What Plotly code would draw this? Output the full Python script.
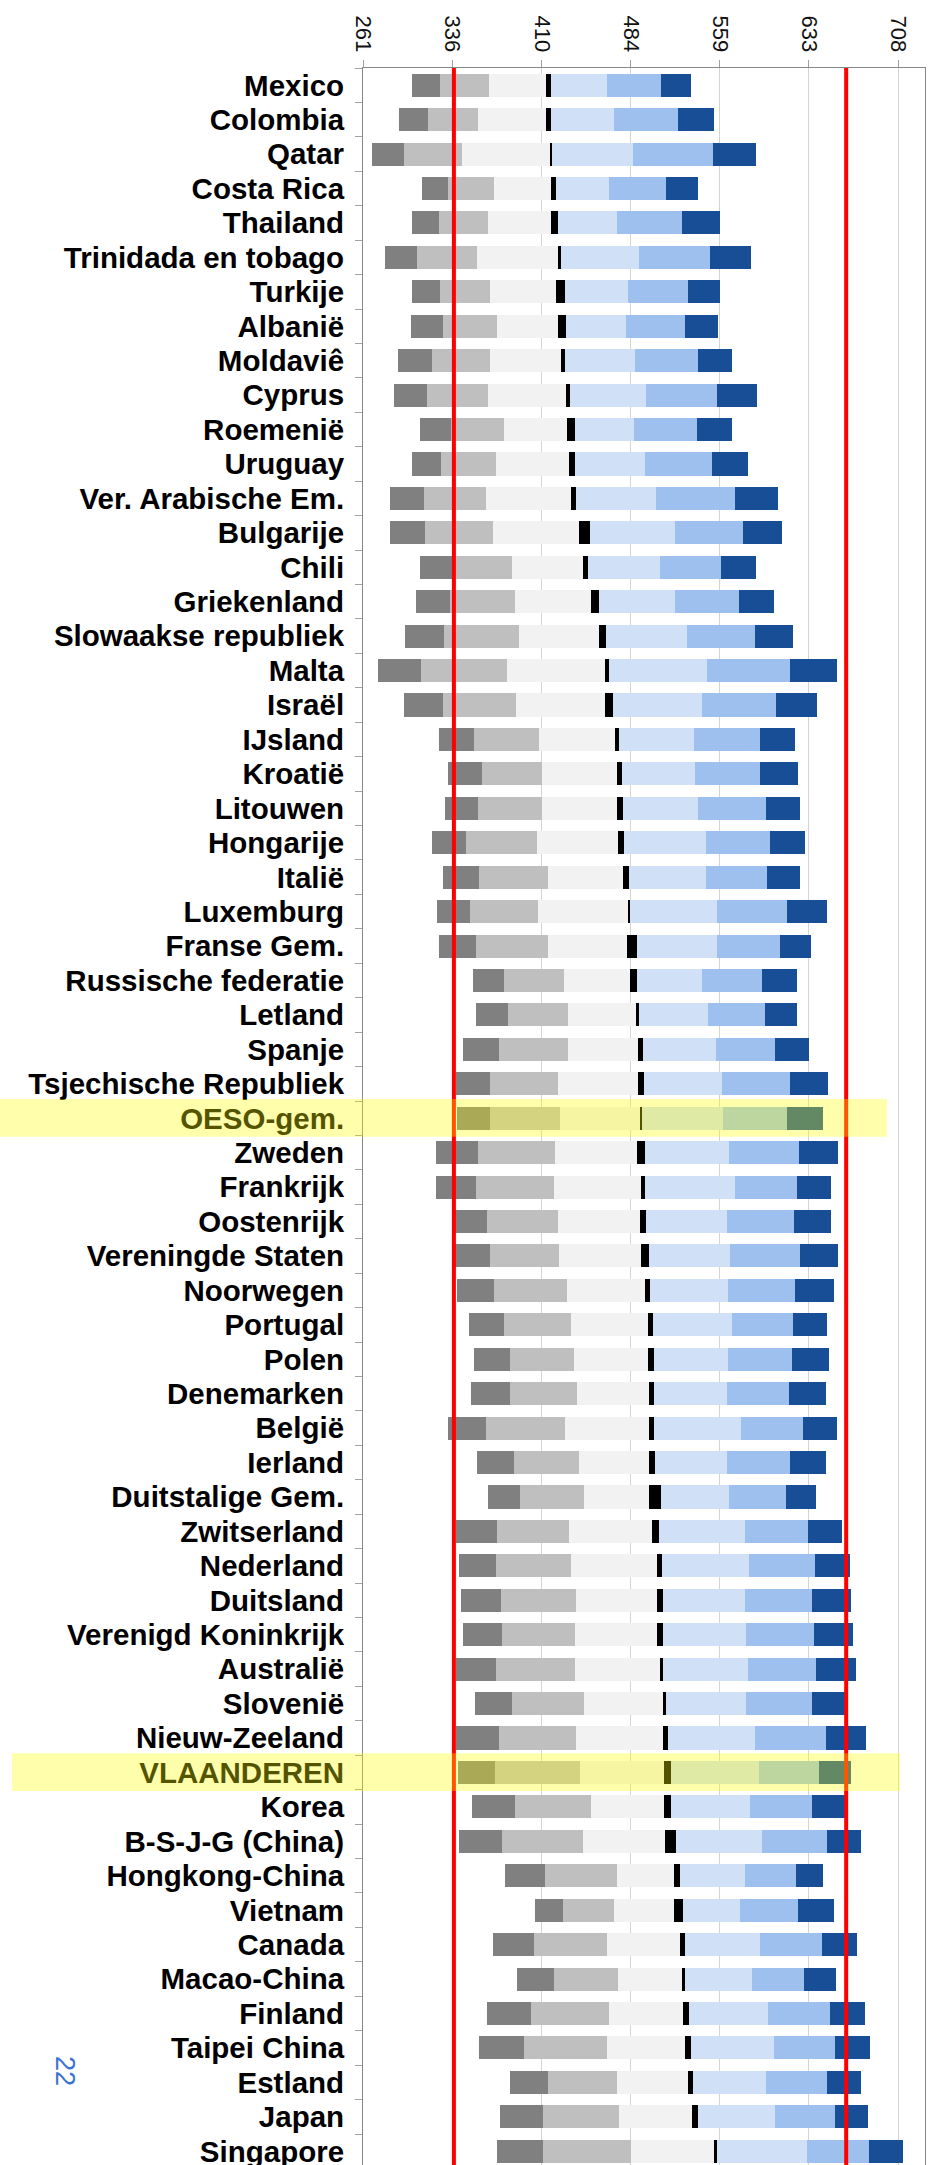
import plotly.graph_objects as go

countries = ["Mexico", "Colombia", "Qatar", "Costa Rica", "Thailand", "Trinidada en tobago",
             "Turkije", "Albanië", "Moldaviê", "Cyprus", "Roemenië", "Uruguay",
             "Ver. Arabische Em.", "Bulgarije", "Chili", "Griekenland", "Slowaakse republiek",
             "Malta", "Israël", "IJsland", "Kroatië", "Litouwen", "Hongarije", "Italië",
             "Luxemburg", "Franse Gem.", "Russische federatie", "Letland", "Spanje",
             "Tsjechische Republiek", "OESO-gem.", "Zweden", "Frankrijk", "Oostenrijk",
             "Vereningde Staten", "Noorwegen", "Portugal", "Polen", "Denemarken", "België",
             "Ierland", "Duitstalige Gem.", "Zwitserland", "Nederland", "Duitsland",
             "Verenigd Koninkrijk", "Australië", "Slovenië", "Nieuw-Zeeland", "VLAANDEREN",
             "Korea", "B-S-J-G (China)", "Hongkong-China", "Vietnam", "Canada", "Macao-China",
             "Finland", "Taipei China", "Estland", "Japan", "Singapore"]

p5 = [301.2, 290.8, 268.5, 309.7, 301.2, 279.2, 301.5, 300.6, 289.6, 286.2, 308.5, 301.2,
      283.4, 282.8, 307.9, 304.5, 295.4, 272.8, 294.5, 324.1, 331.4, 329.3, 318.6, 327.8,
      322.6, 324.1, 352.2, 354.7, 344.3, 338.0, 339.0, 321.6, 321.3, 334.8, 337.0, 339.0,
      349.5, 353.7, 351.3, 331.7, 356.2, 365.4, 338.0, 341.2, 342.4, 344.6, 338.0, 354.0,
      338.0, 340.0, 351.9, 340.9, 379.1, 404.2, 369.6, 389.2, 364.4, 358.0, 383.7, 375.1,
      372.7]
p10 = [324.7, 314.6, 294.5, 331.7, 323.8, 306.1, 324.7, 327.8, 318.0, 314.0, 334.2, 325.6,
       311.6, 312.5, 334.8, 333.3, 328.7, 309.4, 327.2, 353.7, 359.8, 356.8, 346.4, 358.0,
       350.4, 354.7, 378.8, 381.5, 373.9, 366.6, 367.2, 356.5, 354.7, 364.1, 367.2, 369.9,
       378.8, 383.7, 383.1, 363.5, 386.7, 391.6, 372.4, 371.5, 375.7, 376.4, 371.5, 385.5,
       373.9, 371.2, 388.0, 377.0, 412.7, 427.7, 403.2, 420.1, 401.4, 395.0, 415.2, 411.5,
       411.5]
p25 = [365.7, 356.8, 343.7, 369.9, 364.7, 355.6, 367.2, 372.7, 367.2, 364.7, 378.8, 371.5,
       363.8, 369.0, 384.9, 387.7, 391.0, 381.2, 388.3, 408.1, 410.3, 410.0, 406.0, 414.9,
       406.6, 415.5, 428.3, 432.3, 431.7, 423.7, 425.6, 421.0, 420.7, 423.7, 424.6, 431.1,
       434.4, 436.6, 439.3, 429.2, 440.8, 445.1, 432.9, 434.1, 439.0, 437.5, 438.1, 445.1,
       438.4, 442.1, 450.9, 444.5, 472.6, 470.2, 465.0, 474.1, 465.9, 465.0, 472.6, 474.4,
       484.8]
ci_lo = [413.6, 413.3, 416.7, 417.6, 418.2, 423.4, 421.6, 424.0, 425.9, 430.7, 431.4, 432.9,
         434.1, 441.4, 444.5, 450.9, 457.9, 462.8, 463.1, 471.4, 473.2, 472.9, 474.1, 477.8,
         481.8, 481.2, 483.6, 488.8, 490.6, 490.6, 492.8, 489.7, 493.1, 492.5, 493.1, 496.5,
         498.9, 499.2, 499.5, 499.8, 500.1, 500.1, 502.6, 506.2, 506.2, 506.8, 508.7, 511.7,
         511.1, 512.6, 512.6, 513.0, 520.6, 520.9, 525.5, 527.6, 528.5, 529.8, 532.2, 535.3,
         554.2]
ci_hi = [417.6, 417.6, 418.5, 421.6, 424.0, 425.9, 429.2, 430.1, 429.8, 433.5, 438.1, 437.5,
         439.0, 450.0, 449.1, 458.3, 463.4, 465.9, 469.9, 474.5, 477.5, 477.8, 479.0, 483.0,
         483.6, 489.4, 489.4, 491.6, 494.9, 495.2, 493.7, 496.8, 496.8, 497.4, 499.5, 500.4,
         503.2, 503.8, 504.1, 504.1, 505.0, 509.6, 508.1, 510.5, 511.7, 511.7, 511.1, 513.9,
         515.7, 517.8, 518.5, 522.1, 525.5, 528.5, 529.5, 529.5, 533.1, 534.6, 536.2, 541.1,
         556.3]
p75 = [464.4, 470.8, 486.1, 465.9, 473.2, 491.0, 482.1, 480.9, 488.2, 497.4, 487.6, 496.1,
       505.3, 521.2, 509.0, 521.8, 531.6, 548.4, 544.1, 537.4, 538.3, 540.5, 547.5, 547.2,
       556.7, 557.0, 544.4, 548.7, 555.7, 560.9, 561.2, 566.7, 571.3, 565.2, 567.4, 566.1,
       568.9, 565.5, 564.6, 576.8, 564.6, 566.7, 580.2, 583.5, 580.2, 580.5, 582.6, 581.1,
       588.1, 592.1, 584.2, 594.6, 579.6, 575.9, 592.7, 586.0, 599.1, 604.0, 597.3, 604.9,
       631.5]
p90 = [509.6, 523.7, 553.6, 513.6, 527.6, 550.8, 532.2, 530.1, 540.8, 556.7, 539.5, 552.1,
       571.3, 578.4, 560.0, 575.0, 588.4, 617.8, 606.2, 592.4, 592.7, 597.3, 601.0, 598.5,
       615.0, 609.2, 594.5, 596.4, 604.9, 617.8, 614.7, 625.4, 623.3, 620.6, 625.7, 622.1,
       619.9, 619.0, 616.9, 628.8, 617.8, 614.1, 632.5, 638.6, 636.4, 637.9, 639.5, 636.4,
       647.7, 641.9, 636.1, 648.6, 622.4, 623.9, 644.1, 629.7, 651.4, 655.4, 648.3, 655.4,
       683.5]
p95 = [535.0, 554.2, 589.4, 540.8, 559.4, 585.1, 559.4, 557.6, 569.2, 590.3, 569.2, 582.6,
       607.7, 611.1, 589.0, 604.0, 620.5, 656.6, 640.4, 622.1, 623.9, 626.3, 630.3, 626.3,
       648.3, 635.5, 623.6, 623.6, 633.1, 649.6, 645.0, 657.8, 651.7, 652.3, 658.1, 654.8,
       648.6, 650.2, 648.0, 656.6, 648.0, 639.2, 661.5, 667.9, 668.5, 670.3, 672.5, 663.9,
       681.3, 668.5, 665.0, 677.4, 645.3, 654.8, 673.7, 656.3, 680.7, 684.4, 677.1, 683.2,
       712.2]

tick_values = [261, 335.5, 410, 484.5, 559, 633.5, 708]
tick_labels = ["261", "336", "410", "484", "559", "633", "708"]
ref_lines = [336.6, 664.6]
highlighted = ["OESO-gem.", "VLAANDEREN"]
page_number = "22"

segments = [
    ("P5-P10", p5, p10, "#808080"),
    ("P10-P25", p10, p25, "#BFBFBF"),
    ("P25-gem", p25, ci_lo, "#F2F2F2"),
    ("gemiddelde", ci_lo, ci_hi, "#000000"),
    ("gem-P75", ci_hi, p75, "#CFE0F7"),
    ("P75-P90", p75, p90, "#9DC0EE"),
    ("P90-P95", p90, p95, "#174E96"),
]

n = len(countries)
ypos = list(range(n))

fig = go.Figure()
for name, lo, hi, col in segments:
    fig.add_trace(go.Bar(
        y=ypos, x=[h - l for l, h in zip(lo, hi)], base=lo, orientation="h",
        marker=dict(color=col, line=dict(width=0)), width=0.67, name=name,
        showlegend=False, hoverinfo="skip"))

W, H = 928, 2165
ML, MR, MT, MB = 363, 3, 68, 0
plot_w = W - ML - MR
plot_h = H - MT - MB

shapes = []
for v in ref_lines:
    shapes.append(dict(type="line", xref="x", yref="paper", x0=v, x1=v, y0=0, y1=1,
                       line=dict(color="#FF0000", width=4), layer="above"))
hl_right = {"OESO-gem.": 887, "VLAANDEREN": 900}
hl_left = {"OESO-gem.": 0, "VLAANDEREN": 12}
for lab in highlighted:
    i = countries.index(lab)
    shapes.append(dict(type="rect", xref="paper", yref="y",
                       x0=(hl_left[lab] - ML) / plot_w, x1=(hl_right[lab] - ML) / plot_w,
                       y0=i - 0.56, y1=i + 0.54,
                       fillcolor="rgba(255,255,0,0.33)", line=dict(width=0), layer="above"))

fig.update_layout(
    width=W, height=H,
    margin=dict(l=ML, r=MR, t=MT, b=MB, pad=0),
    paper_bgcolor="white", plot_bgcolor="white",
    barmode="overlay", bargap=0,
    shapes=shapes,
    font=dict(family="Liberation Sans, Arial, sans-serif", color="#000000"),
    annotations=[dict(text=page_number, xref="paper", yref="paper",
                      x=(65 - ML) / plot_w, y=1 - (2071 - MT) / plot_h,
                      xanchor="center", yanchor="middle",
                      showarrow=False, textangle=90,
                      font=dict(size=27, color="#3B74D0"))],
)
fig.update_xaxes(
    side="top", range=[260.6, 730.5], tickmode="array",
    tickvals=tick_values, ticktext=tick_labels, tickangle=90,
    tickfont=dict(size=22, color="#111111"),
    ticks="outside", ticklen=7, tickcolor="#A0A0A0",
    showgrid=True, gridcolor="#D4D4D4", gridwidth=1,
    showline=True, linecolor="#888888", linewidth=1, mirror=True,
    zeroline=False, automargin=False, fixedrange=True,
    ticklabeloverflow="allow",
)
fig.update_yaxes(
    range=[60.4, -0.5], tickmode="array", tickvals=ypos, ticktext=countries,
    tickfont=dict(size=29.5, color="#000000", weight="bold"),
    ticks="", ticklabelstandoff=12, ticklabeloverflow="allow",
    minor=dict(tickmode="array", tickvals=[i - 0.5 for i in range(n + 1)],
               ticks="outside", ticklen=7, tickcolor="#A0A0A0", showgrid=False),
    showgrid=False, showline=True, linecolor="#888888", linewidth=1, mirror=True,
    zeroline=False, automargin=False, fixedrange=True,
)

fig.write_html("out.html", config={"displayModeBar": False},
               post_script="document.body.style.margin='0px';")
